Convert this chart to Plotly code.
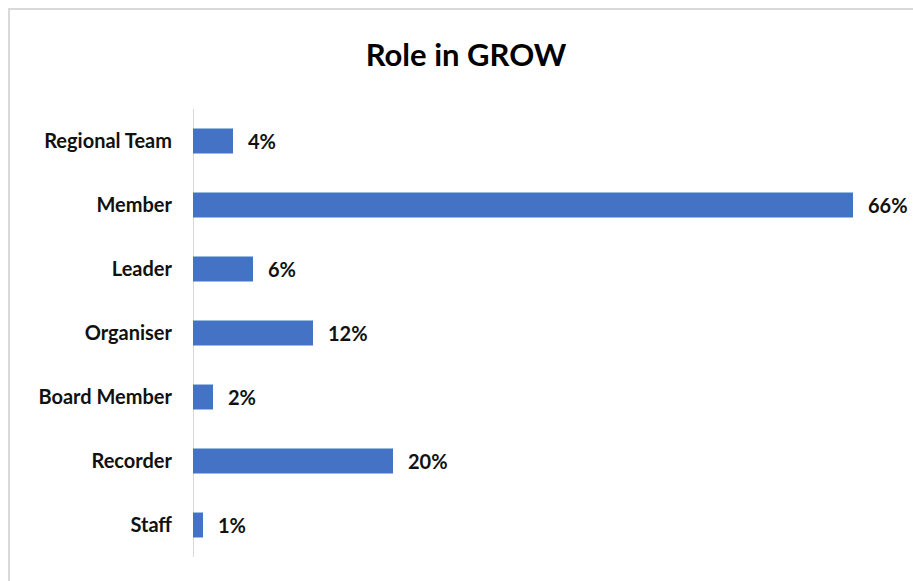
import plotly.graph_objects as go

categories = ["Regional Team", "Member", "Leader", "Organiser", "Board Member", "Recorder", "Staff"]
values = [4, 66, 6, 12, 2, 20, 1]
labels = ["4%", "66%", "6%", "12%", "2%", "20%", "1%"]

W, H = 913, 581
L, R, T, B = 193, 20, 109, 24
pw = W - L - R
ph = H - T - B

fig = go.Figure()
fig.add_trace(go.Bar(
    x=values, y=categories, orientation="h",
    marker=dict(color="#4472C4", line=dict(width=0)),
    width=0.39, hoverinfo="skip",
))

for c, v, t in zip(categories, values, labels):
    fig.add_annotation(x=v, y=c, text="<b>%s</b>" % t, showarrow=False,
                       xanchor="left", yanchor="middle", xshift=13,
                       font=dict(family="Lato", size=20, color="#111111"))

def px_to_paper_x(px):
    return (px - L) / pw

def px_to_paper_y(py):
    return (H - B - py) / ph

fig.add_shape(type="rect", xref="paper", yref="paper",
              x0=px_to_paper_x(9), x1=px_to_paper_x(930),
              y0=px_to_paper_y(600), y1=px_to_paper_y(9),
              line=dict(color="#d9d9d9", width=2), layer="below")

fig.update_layout(
    width=W, height=H,
    margin=dict(l=L, r=R, t=T, b=B),
    paper_bgcolor="white", plot_bgcolor="white",
    showlegend=False,
    title=dict(text="<b>Role in GROW</b>", xref="container", x=466 / W, xanchor="center",
               y=1 - 55 / H, yanchor="middle", yref="container",
               font=dict(family="Lato", size=31, color="#000000")),
)
fig.update_xaxes(range=[0, 70], showgrid=False, zeroline=False, showticklabels=False,
                 showline=False, ticks="")
fig.update_yaxes(categoryorder="array", categoryarray=categories[::-1],
                 autorange=False, range=[-0.5, 6.5],
                 showgrid=False, zeroline=False, showline=False, ticks="",
                 ticklabelstandoff=20,
                 tickfont=dict(family="Lato", size=20, color="#111111", weight="bold"))
fig.add_shape(type="line", xref="x", yref="paper", x0=0, x1=0, y0=0, y1=1,
              line=dict(color="#d9d9d9", width=2), layer="below")

fig.write_html("out.html")
